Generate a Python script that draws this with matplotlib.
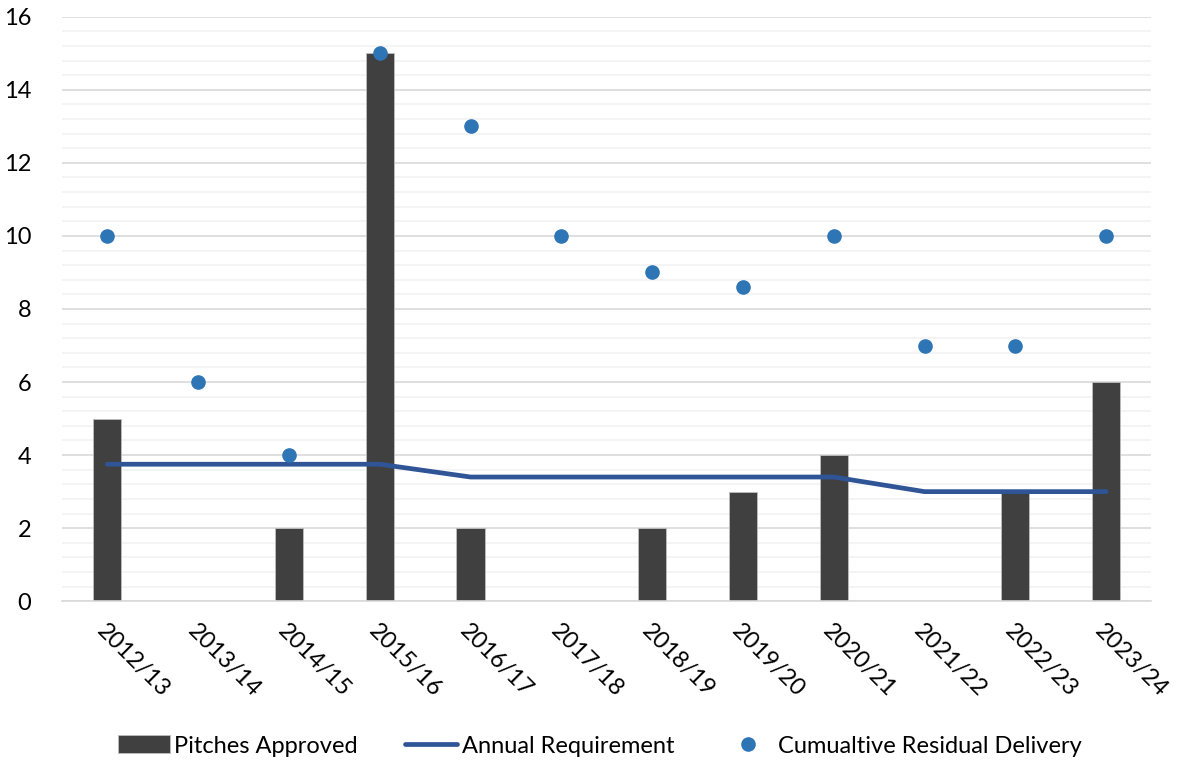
import numpy as np
import matplotlib.pyplot as plt
from matplotlib.ticker import MultipleLocator

# Дані по роках
years = ["2012/13", "2013/14", "2014/15", "2015/16", "2016/17", "2017/18",
         "2018/19", "2019/20", "2020/21", "2021/22", "2022/23", "2023/24"]
pitches_approved = [5, 0, 2, 15, 2, 0, 2, 3, 4, 0, 3, 6]
annual_requirement = [3.75, 3.75, 3.75, 3.75, 3.4, 3.4, 3.4, 3.4, 3.4, 3, 3, 3]
residual_delivery = [10, 6, 4, 15, 13, 10, 9, 8.6, 10, 7, 7, 10]

plt.rcParams['font.family'] = ['Lato', 'DejaVu Sans']

fig = plt.figure(figsize=(11.81, 7.62), dpi=100)
ax = fig.add_axes([0.0525, 0.211, 0.9225, 0.767])

x = np.arange(len(years))

bars = ax.bar(x, pitches_approved, width=0.31, color="#404040", edgecolor="#bfbfbf",
              linewidth=0.6, label="Pitches Approved", zorder=2)
line, = ax.plot(x, annual_requirement, color="#2F5597", linewidth=3.4,
                solid_capstyle="round", solid_joinstyle="round",
                label="Annual Requirement", zorder=3)
dots, = ax.plot(x, residual_delivery, linestyle="none", marker="o", markersize=9.5,
                color="#2E75B6", label="Cumualtive Residual Delivery", zorder=4)

# Осі та сітка
ax.set_xlim(-0.5, len(years) - 0.5)
ax.set_ylim(0, 16)
ax.yaxis.set_major_locator(MultipleLocator(2))
ax.yaxis.set_minor_locator(MultipleLocator(0.4))
ax.grid(axis="y", which="major", color="#d9d9d9", linewidth=1.2, zorder=0)
ax.grid(axis="y", which="minor", color="#f2f2f2", linewidth=1.2, zorder=0)
ax.set_axisbelow(True)

for side in ["top", "right", "left"]:
    ax.spines[side].set_visible(False)
ax.spines["bottom"].set_color("#d9d9d9")
ax.spines["bottom"].set_linewidth(1.2)

ax.tick_params(axis="both", which="both", length=0, labelsize=17, colors="black")
ax.tick_params(axis="y", pad=22)
ax.set_xticks(x)
ax.set_xticklabels(years, rotation=-45, ha="left", va="top",
                   rotation_mode="anchor")
ax.tick_params(axis="x", pad=14)

# Легенда внизу
fig.legend([bars, line, dots],
           ["Pitches Approved", "Annual Requirement", "Cumualtive Residual Delivery"],
           loc="center", bbox_to_anchor=(0.508, 0.021), ncol=3,
           frameon=False, fontsize=17, handlelength=2.2, handleheight=0.8,
           handletextpad=0.2, columnspacing=2.0, borderpad=0)

plt.savefig("out.png", dpi=100)
